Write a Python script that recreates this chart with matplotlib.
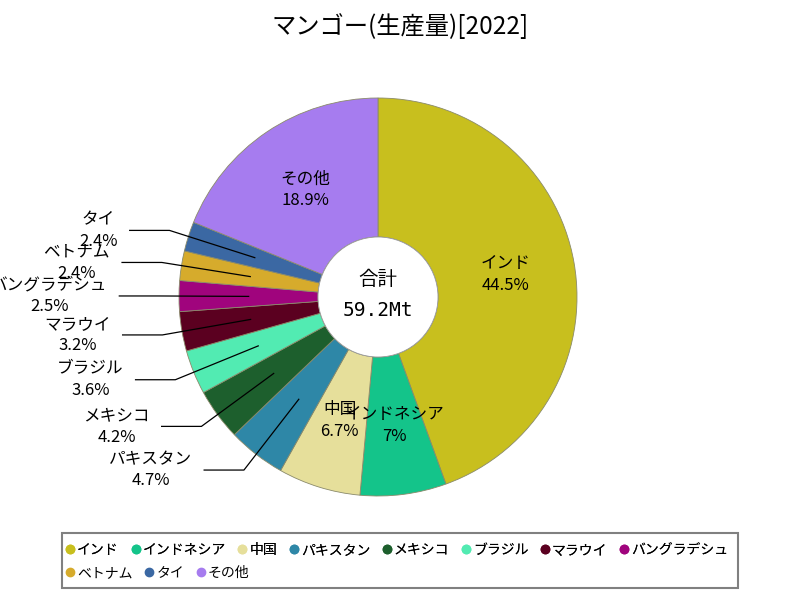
import matplotlib.pyplot as plt
import numpy as np
from matplotlib.patches import Rectangle
from matplotlib.lines import Line2D

plt.rcParams['font.family'] = ['Noto Sans CJK JP', 'DejaVu Sans']

title = "マンゴー(生産量)[2022]"
countries = ['インド', 'インドネシア', '中国', 'パキスタン', 'メキシコ', 'ブラジル',
             'マラウイ', 'バングラデシュ', 'ベトナム', 'タイ', 'その他']
shares = [44.5, 7, 6.7, 4.7, 4.2, 3.6, 3.2, 2.5, 2.4, 2.4, 18.9]
pct_labels = ['44.5%', '7%', '6.7%', '4.7%', '4.2%', '3.6%', '3.2%', '2.5%', '2.4%', '2.4%', '18.9%']
colors = ['#c8bf1e', '#14c48a', '#e6df9b', '#2e87a7', '#1d5f2d', '#52ebb2',
          '#5b0020', '#a0047d', '#d6ab2c', '#3b68a3', '#a67cef']
total_label = "59.2Mt"
outside = ['パキスタン', 'メキシコ', 'ブラジル', 'マラウイ', 'バングラデシュ', 'ベトナム', 'タイ']

R = 199.0
cx, cy = 378, 297
fig = plt.figure(figsize=(8, 6), dpi=100)
ax = fig.add_axes([0, 0, 1, 1])

wedges, _ = ax.pie(shares, colors=colors, startangle=90, counterclock=False,
                   radius=1, wedgeprops=dict(width=1 - 60 / R, edgecolor='#8a8a6a', linewidth=0.6))
ax.set_aspect('auto')
ax.set_xlim(-cx / R, (800 - cx) / R)
ax.set_ylim((cy - 600) / R, cy / R)
ax.axis('off')
ax.add_patch(plt.Circle((0, 0), 60 / R, facecolor='white', edgecolor='#999999', lw=0.6))
ax.text(0, 0.09, '合計', ha='center', va='center', fontsize=14)
ax.text(0, -0.07, total_label, ha='center', va='center', fontsize=14, family=['DejaVu Sans Mono', 'Noto Sans CJK JP'])

for w, name, pct in zip(wedges, countries, pct_labels):
    ang = np.deg2rad((w.theta1 + w.theta2) / 2)
    x, y = 0.65 * np.cos(ang), 0.65 * np.sin(ang)
    if name in outside:
        ex, ey = 1.1 * np.cos(ang), 1.1 * np.sin(ang)
        hx = ex - 0.2
        ax.plot([x, ex, hx], [y, ey, ey], color='black', lw=0.9)
        ax.text(hx - 0.06, ey, name + '\n' + pct, ha='right', va='center',
                multialignment='center', fontsize=12, linespacing=1.35)
    else:
        ax.text(x, y, name + '\n' + pct, ha='center', va='center',
                fontsize=12, linespacing=1.35)

fig.text(0.5, 0.955, title, ha='center', va='center', fontsize=17.5)

# legend box with flowing rows
fig.patches.append(Rectangle((62 / 800, 12 / 600), 676 / 800, 55 / 600, transform=fig.transFigure,
                             facecolor='white', edgecolor='#808080', lw=1.5))
handles = [Line2D([], [], marker='o', ls='', color=c, markersize=6) for c in colors]
row1 = fig.legend(handles[:8], countries[:8], loc='center left', bbox_to_anchor=(62 / 800, 1 - 550 / 600),
                  ncol=8, frameon=False, fontsize=10, handletextpad=-0.1, columnspacing=0.6,
                  handlelength=1.2, borderpad=0, borderaxespad=0)
fig.legend(handles[8:], countries[8:], loc='center left', bbox_to_anchor=(62 / 800, 1 - 573 / 600),
           ncol=3, frameon=False, fontsize=10, handletextpad=-0.1, columnspacing=0.6,
           handlelength=1.2, borderpad=0, borderaxespad=0)
fig.add_artist(row1)

fig.savefig('out.png', dpi=100)
